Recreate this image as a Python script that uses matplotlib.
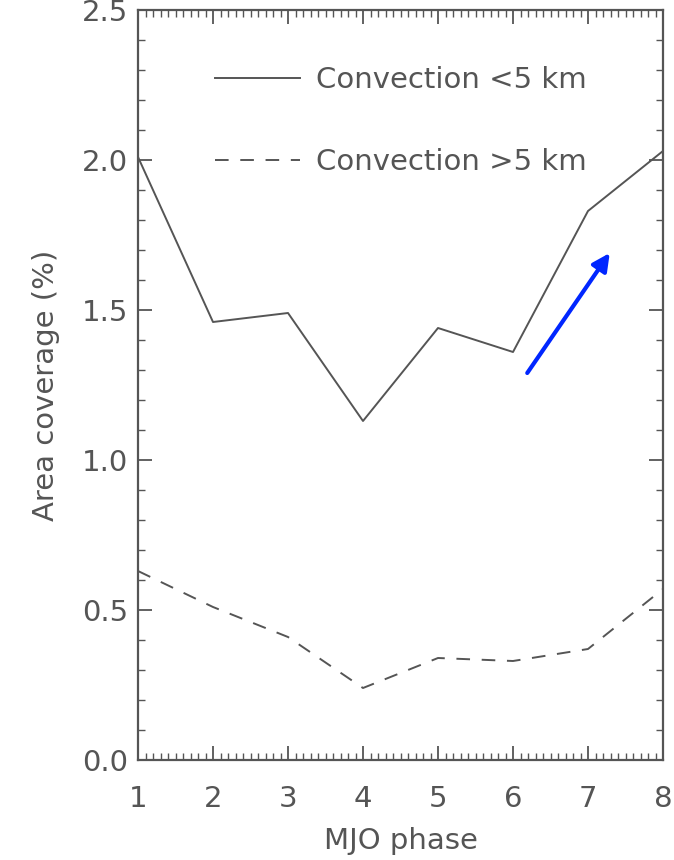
import matplotlib
matplotlib.use("Agg")
import matplotlib.pyplot as plt
from matplotlib.ticker import MultipleLocator

# values
phase = [1, 2, 3, 4, 5, 6, 7, 8]
conv_low = [2.01, 1.46, 1.49, 1.13, 1.44, 1.36, 1.83, 2.03]
conv_high = [0.63, 0.51, 0.41, 0.24, 0.34, 0.33, 0.37, 0.57]
labels = ["Convection <5 km", "Convection >5 km"]

gray = "#555555"
fs = 21

fig = plt.figure(figsize=(6.74, 8.6), dpi=100)
ax = fig.add_axes([138 / 674, 100 / 860, 525 / 674, 750 / 860])

ax.plot(phase, conv_low, "-", color=gray, lw=1.4, label=labels[0])
ax.plot(phase, conv_high, color=gray, lw=1.4, dashes=(7, 6), label=labels[1])

# blue arrow pointing to the rise in phase 7
ax.annotate("", xy=(7.29, 1.69), xytext=(6.19, 1.29),
            arrowprops=dict(arrowstyle="-|>", color="#0026ff", lw=3,
                            mutation_scale=26, shrinkA=0, shrinkB=0))

ax.set_xlim(1, 8)
ax.set_ylim(0, 2.5)
ax.xaxis.set_major_locator(MultipleLocator(1))
ax.xaxis.set_minor_locator(MultipleLocator(0.1))
ax.yaxis.set_major_locator(MultipleLocator(0.5))
ax.yaxis.set_minor_locator(MultipleLocator(0.1))
ax.yaxis.set_major_formatter(matplotlib.ticker.FormatStrFormatter("%.1f"))

ax.tick_params(which="both", direction="in", top=True, right=True, color=gray,
               labelcolor=gray, labelsize=fs)
ax.tick_params(which="major", length=10, width=1.3)
ax.tick_params(which="minor", length=5, width=1.0)
ax.tick_params(axis="x", which="major", pad=18)
ax.tick_params(axis="y", which="major", pad=7)
for s in ax.spines.values():
    s.set_color(gray)
    s.set_linewidth(1.6)

ax.set_xlabel("MJO phase", fontsize=fs, color=gray, labelpad=10)
ax.set_ylabel("Area coverage (%)", fontsize=fs, color=gray, labelpad=16)

leg = ax.legend(loc="upper left", bbox_to_anchor=(0.147, 0.925), frameon=False,
                fontsize=fs, handlelength=2.9, handletextpad=0.55,
                labelspacing=1.85, borderpad=0, borderaxespad=0)
for t in leg.get_texts():
    t.set_color(gray)

fig.savefig("out.png", dpi=100)
